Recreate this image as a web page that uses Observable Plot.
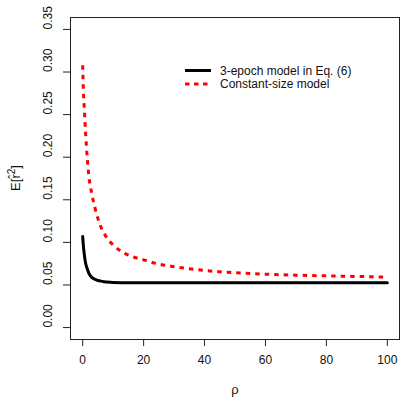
<!DOCTYPE html>
<html><head><meta charset="utf-8">
<script src="https://cdn.jsdelivr.net/npm/d3@7"></script>
<script src="https://cdn.jsdelivr.net/npm/@observablehq/plot@0.6"></script>
<style>
body{margin:0;background:#fff}
svg{font-family:"Liberation Sans",Arial,Helvetica,sans-serif}
</style>
</head><body><div id="chart"></div>
<script>
// Constant-size model (red dotted)
const rhoConst = [0,0.25,0.5,0.75,1,1.5,2,3,4,5,6,7,8,10,12,15,20,25,30,35,40,45,50,55,60,70,80,90,100];
const eConst   = [0.308,0.276,0.259,0.242,0.226,0.199,0.179,0.157,0.141,0.128,0.118,0.111,0.105,0.097,0.091,0.085,0.0795,0.0745,0.0715,0.069,0.067,0.0655,0.0643,0.0635,0.0627,0.0615,0.0607,0.0600,0.0592];
// 3-epoch model (black solid)
const rhoEpoch = [0,0.25,0.5,0.75,1,1.5,2,2.5,3,4,5,6,7,8,10,15,20,40,60,80,100];
const eEpoch   = [0.107,0.095,0.087,0.080,0.075,0.069,0.064,0.061,0.059,0.0567,0.0553,0.0545,0.0539,0.0534,0.0529,0.0527,0.0527,0.0527,0.0527,0.0527,0.0527];

const xTicks = [0,20,40,60,80,100];
const yTicks = [0,0.05,0.10,0.15,0.20,0.25,0.30,0.35];
const seriesNames = ["3-epoch model in Eq. (6)", "Constant-size model"];
const xLabel = "ρ";

const constData = rhoConst.map((r,i)=>({rho:r, e:eConst[i]}));
const epochData = rhoEpoch.map((r,i)=>({rho:r, e:eEpoch[i]}));

const chart = Plot.plot({
  width: 416, height: 403,
  marginLeft: 70, marginRight: 17, marginTop: 17, marginBottom: 64,
  style: {fontFamily: '"Liberation Sans",Arial,sans-serif', fontSize: "12px", background: "white", overflow: "visible"},
  x: {domain: [-4, 104]},
  y: {domain: [-0.014, 0.364]},
  marks: [
    Plot.frame({stroke: "#222", strokeWidth: 1}),
    Plot.axisX({ticks: xTicks, tickSize: 7, tickFormat: () => "", label: null, stroke: "#222"}),
    Plot.axisY({ticks: yTicks, tickSize: 7, tickFormat: () => "", label: null, stroke: "#222"}),
    Plot.text(xTicks, {x: d => d, text: d => String(d), frameAnchor: "bottom", dy: 24, fontSize: 12, fill: "#111"}),
    Plot.text(yTicks, {y: d => d, text: d => d.toFixed(2), frameAnchor: "left", dx: -22, rotate: -90, fontSize: 12, fill: "#111"}),
    Plot.text([xLabel], {text: d => d, frameAnchor: "bottom", dy: 54, fontSize: 13, fill: "#111"}),
    Plot.line(epochData, {x: "rho", y: "e", stroke: "#000", strokeWidth: 3, curve: "monotone-x"}),
    Plot.line(constData, {x: "rho", y: "e", stroke: "#ff0000", strokeWidth: 3, strokeDasharray: "4.5,5", strokeLinecap: "butt", curve: "monotone-x"})
  ]
});
document.getElementById("chart").appendChild(chart);

const svg = d3.select(chart);
// Legend
const leg = svg.append("g").attr("text-anchor", "start");
const rows = [{name: seriesNames[0], color: "#000", dash: null, y: 70.5},
              {name: seriesNames[1], color: "#ff0000", dash: "4.5,4.5", y: 84}];
rows.forEach(r => {
  leg.append("line").attr("x1", 185).attr("x2", 211).attr("y1", r.y).attr("y2", r.y)
    .attr("stroke", r.color).attr("stroke-width", 3).attr("stroke-dasharray", r.dash);
  leg.append("text").attr("x", 220).attr("y", r.y).attr("dy", "0.35em")
    .attr("text-anchor", "start")
    .attr("font-size", 12).attr("fill", "#111").text(r.name);
});
// Y axis label E[r̂²]
const yl = svg.append("text").attr("transform", "translate(20,178) rotate(-90)")
  .attr("text-anchor", "middle").attr("font-size", 13).attr("fill", "#111");
yl.append("tspan").text("E[r\u0302");
yl.append("tspan").attr("dy", -5).attr("font-size", 10).text("2");
yl.append("tspan").attr("dy", 5).text("]");
</script>
</body></html>
